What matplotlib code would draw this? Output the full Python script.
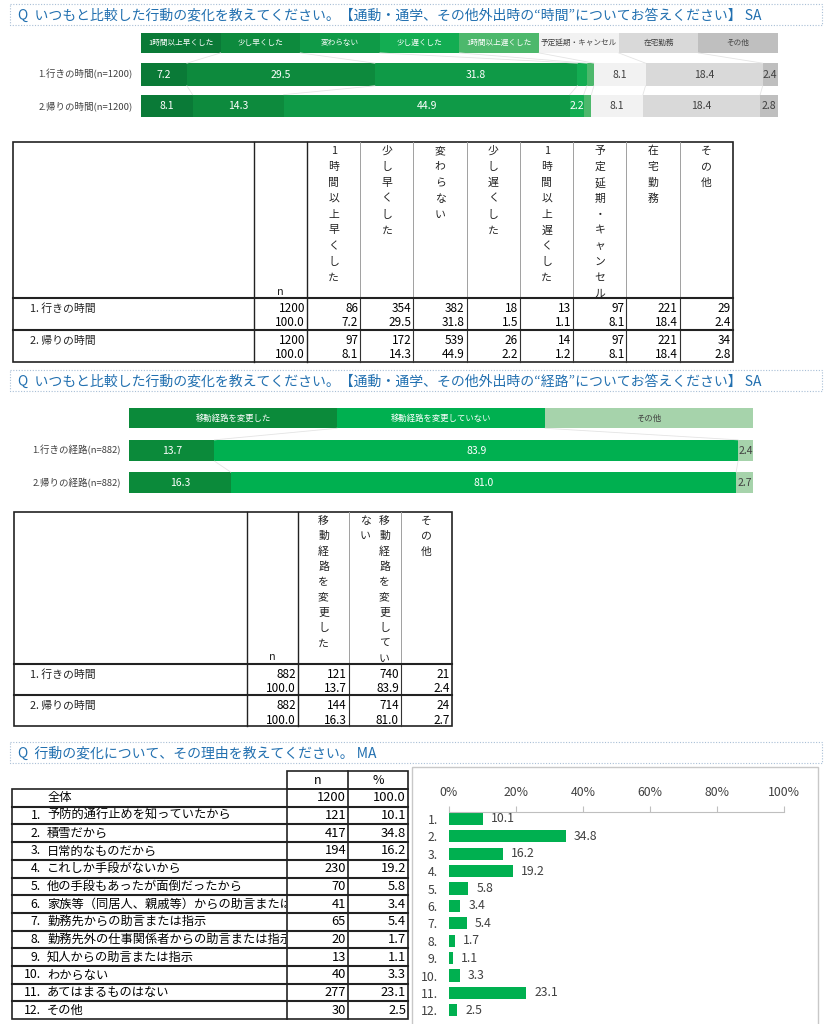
import numpy as np
import matplotlib
matplotlib.use("Agg")
import matplotlib.pyplot as plt
from matplotlib.patches import Rectangle

plt.rcParams['font.family'] = ['Noto Sans CJK JP', 'DejaVu Sans']

W, H = 828, 1024

# ---- data: time of commute ----
time_cats = ["1時間以上早くした", "少し早くした", "変わらない", "少し遅くした",
             "1時間以上遅くした", "予定延期・キャンセル", "在宅勤務", "その他"]
time_bar_rows = ["1.行きの時間(n=1200)", "2.帰りの時間(n=1200)"]
time_tbl_rows = ["1. 行きの時間", "2. 帰りの時間"]
time_n = [1200, 1200]
time_go_cnt = [86, 354, 382, 18, 13, 97, 221, 29]
time_go_pct = [7.2, 29.5, 31.8, 1.5, 1.1, 8.1, 18.4, 2.4]
time_back_cnt = [97, 172, 539, 26, 14, 97, 221, 34]
time_back_pct = [8.1, 14.3, 44.9, 2.2, 1.2, 8.1, 18.4, 2.8]

# ---- data: route ----
route_cats = ["移動経路を変更した", "移動経路を変更していない", "その他"]
route_bar_rows = ["1.行きの経路(n=882)", "2.帰りの経路(n=882)"]
route_tbl_rows = ["1. 行きの時間", "2. 帰りの時間"]
route_n = [882, 882]
route_go_cnt = [121, 740, 21]
route_go_pct = [13.7, 83.9, 2.4]
route_back_cnt = [144, 714, 24]
route_back_pct = [16.3, 81.0, 2.7]

# ---- data: reasons ----
reason_total_n = 1200
reason_labels = ["予防的通行止めを知っていたから", "積雪だから", "日常的なものだから",
                 "これしか手段がないから", "他の手段もあったが面倒だったから",
                 "家族等（同居人、親戚等）からの助言または指示", "勤務先からの助言または指示",
                 "勤務先外の仕事関係者からの助言または指示", "知人からの助言または指示",
                 "わからない", "あてはまるものはない", "その他"]
reason_n = [121, 417, 194, 230, 70, 41, 65, 20, 13, 40, 277, 30]
reason_pct = [10.1, 34.8, 16.2, 19.2, 5.8, 3.4, 5.4, 1.7, 1.1, 3.3, 23.1, 2.5]

time_colors = ['#0a7a37', '#0d8a3d', '#0f9a47', '#13ad52', '#4db86c', '#f2f2f2', '#d9d9d9', '#bfbfbf']
time_txt = ['white'] * 5 + ['#404040'] * 3
route_colors = ['#0b8a3a', '#00b050', '#a6d3ab']
route_txt = ['white', 'white', '#404040']
TITLE_C = '#2270b0'

fig = plt.figure(figsize=(W / 100, H / 100), dpi=100)
bg = fig.add_axes([0, 0, 1, 1])
bg.set_xlim(0, W)
bg.set_ylim(H, 0)
bg.axis('off')


def px_ax(x0, y0, x1, y1):
    return fig.add_axes([x0 / W, 1 - y1 / H, (x1 - x0) / W, (y1 - y0) / H])


def title_box(y0, y1, text):
    bg.add_patch(Rectangle((10, y0), 812, y1 - y0, fill=False, ec='#a9bfd6',
                           lw=0.8, ls=(0, (1, 1.5))))
    bg.text(18, (y0 + y1) / 2 + 1, text, fontsize=10, color=TITLE_C, va='center', ha='left')


def stacked(rect, cats, colors, txtc, rows, vals_list, hh, bh, fs_head, fs_val, fs_row):
    ax = px_ax(*rect)
    ax.set_xlim(0, 100)
    ax.set_ylim(len(rows) + 0.35, -0.35)
    ax.axis('off')
    w = 100 / len(cats)
    for i, c in enumerate(cats):
        ax.barh(0, w, left=i * w, height=hh, color=colors[i], lw=0)
        ax.text(i * w + w / 2, 0, c, ha='center', va='center', fontsize=fs_head, color=txtc[i])
    prev_edges, prev_bottom = np.arange(1, len(cats)) * w, hh / 2
    for r, vals in enumerate(vals_list, start=1):
        vals = np.array(vals)
        left = np.concatenate([[0], np.cumsum(vals)[:-1]])
        ax.barh(r, vals, left=left, height=bh, color=colors, lw=0)
        edges = np.cumsum(vals)[:-1]
        for xa, xb in zip(prev_edges, edges):
            ax.plot([xa, xb], [r - 1 + prev_bottom, r - bh / 2], color='#e4e4e4', lw=0.6)
        prev_edges, prev_bottom = edges, bh / 2
        for i, v in enumerate(vals):
            if v >= 2:
                ax.text(left[i] + v / 2, r, f"{v:.1f}", ha='center', va='center',
                        fontsize=fs_val, color=txtc[i])
        ax.text(-1.3, r, rows[r - 1], ha='right', va='center', fontsize=fs_row, color='#404040')
    return ax


def vtext(xc, y0, text, step, maxlen, fs, gap):
    chunks = [text[i:i + maxlen] for i in range(0, len(text), maxlen)]
    n = len(chunks)
    for k, ch in enumerate(chunks):
        x = xc + (n - 1) / 2 * gap - k * gap
        for j, c in enumerate(ch):
            bg.text(x, y0 + j * step, c, ha='center', va='center', fontsize=fs, color='#222222')


def table(xs, y_top, y_hdr, row_h, heads, row_labels, n_vals, cnts, pcts, step, maxlen, n_pos):
    y_bot = y_hdr + row_h * len(row_labels)
    # light header separators, dark body separators
    for x in xs[3:-1]:
        bg.plot([x, x], [y_top, y_hdr], color='#a0a0a0', lw=0.7)
        bg.plot([x, x], [y_hdr, y_bot], color='#333333', lw=0.8)
    for x in xs[1:3]:
        bg.plot([x, x], [y_top, y_bot], color='#222222', lw=1.0)
    bg.add_patch(Rectangle((xs[0], y_top), xs[-1] - xs[0], y_bot - y_top, fill=False,
                           ec='#222222', lw=1.2))
    for r in range(len(row_labels)):
        bg.plot([xs[0], xs[-1]], [y_hdr + r * row_h] * 2, color='#222222', lw=1.5)
    for j, h in enumerate(heads):
        vtext((xs[j + 2] + xs[j + 3]) / 2, y_top + 9, h, step, maxlen, 7.8, 19)
    bg.text(n_pos[0], n_pos[1], "n", ha='center', va='center', fontsize=7.8, color='#222222')
    for r, lab in enumerate(row_labels):
        yc = y_hdr + r * row_h + 10.5
        yp = y_hdr + r * row_h + 25
        bg.text(30, yc, lab, ha='left', va='center', fontsize=7.8, color='#222222')
        bg.text(xs[2] - 2, yc, f"{n_vals[r]}", ha='right', va='center', fontsize=8.5)
        bg.text(xs[2] - 2, yp, "100.0", ha='right', va='center', fontsize=8.5)
        for j in range(len(heads)):
            bg.text(xs[j + 3] - 2, yc, f"{cnts[r][j]}", ha='right', va='center', fontsize=8.5)
            bg.text(xs[j + 3] - 2, yp, f"{pcts[r][j]:.1f}", ha='right', va='center', fontsize=8.5)


# ---------------- section 1 ----------------
title_box(4, 25, "Q  いつもと比較した行動の変化を教えてください。【通動・通学、その他外出時の“時間”についてお答えください】 SA")
stacked((141, 32, 778, 117), time_cats, time_colors, time_txt, time_bar_rows,
        [time_go_pct, time_back_pct], 0.63, 0.72, 5.5, 7.5, 6.8)
xs1 = [13, 254] + list(307 + 53.25 * np.arange(9))
table(xs1, 142, 298, 32, time_cats, time_tbl_rows, time_n,
      [time_go_cnt, time_back_cnt], [time_go_pct, time_back_pct], 15.9, 10, (280, 292))

# ---------------- section 2 ----------------
title_box(370, 391, "Q  いつもと比較した行動の変化を教えてください。【通動・通学、その他外出時の“経路”についてお答えください】 SA")
stacked((129, 407, 753, 494), route_cats, route_colors, route_txt, route_bar_rows,
        [route_go_pct, route_back_pct], 0.62, 0.66, 6.0, 7.5, 6.8)
xs2 = [14, 247, 298, 349, 401, 452]
table(xs2, 512, 664, 31, route_cats, route_tbl_rows, route_n,
      [route_go_cnt, route_back_cnt], [route_go_pct, route_back_pct], 15.3, 10, (272, 657))

# ---------------- section 3 ----------------
title_box(742, 763, "Q  行動の変化について、その理由を教えてください。 MA")

rh = 17.7
y0 = 789
bg.add_patch(Rectangle((287, 771), 121, y0 - 771, fill=False, ec='#222222', lw=1.2))
bg.plot([348, 348], [771, y0], color='#222222', lw=1.2)
bg.text(317.5, 780, "n", ha='center', va='center', fontsize=9)
bg.text(378, 780, "%", ha='center', va='center', fontsize=9)
nrows = len(reason_labels) + 1
y_end = y0 + rh * nrows
bg.add_patch(Rectangle((12, y0), 396, y_end - y0, fill=False, ec='#222222', lw=1.2))
for x in (287, 348):
    bg.plot([x, x], [y0, y_end], color='#222222', lw=1.2)
for r in range(1, nrows):
    bg.plot([12, 408], [y0 + r * rh] * 2, color='#222222', lw=1.5)
clip = Rectangle((12, y0), 274, y_end - y0, transform=bg.transData, visible=False)
bg.add_patch(clip)
bg.text(48, y0 + rh / 2, "全体", ha='left', va='center', fontsize=8.8)
bg.text(346, y0 + rh / 2, f"{reason_total_n}", ha='right', va='center', fontsize=9.3)
bg.text(406, y0 + rh / 2, "100.0", ha='right', va='center', fontsize=9.3)
for i, lab in enumerate(reason_labels):
    yc = y0 + (i + 1.5) * rh
    bg.text(41, yc, f"{i + 1}.", ha='right', va='center', fontsize=8.8)
    t = bg.text(47, yc, lab, ha='left', va='center', fontsize=8.8, clip_on=True)
    t.set_clip_path(clip)
    bg.text(346, yc, f"{reason_n[i]}", ha='right', va='center', fontsize=9.3)
    bg.text(406, yc, f"{reason_pct[i]:.1f}", ha='right', va='center', fontsize=9.3)

# chart box
bg.add_patch(Rectangle((412, 767), 406, 270, fill=False, ec='#c8c8c8', lw=1.0))
ax3 = px_ax(449, 812, 784, 1019)
pos = np.arange(1, len(reason_pct) + 1)
ax3.barh(pos, reason_pct, height=0.7, color='#00b050', lw=0)
ax3.set_xlim(0, 100)
ax3.set_ylim(12.5, 0.6)
for p, v in zip(pos, reason_pct):
    ax3.text(v + 2.4, p, f"{v:.1f}", ha='left', va='center', fontsize=8.8, color='#404040')
ax3.set_yticks(pos)
ax3.set_yticklabels([f"{p}." for p in pos])
ax3.set_xticks(np.arange(0, 101, 20))
ax3.set_xticklabels([f"{v}%" for v in range(0, 101, 20)])
ax3.xaxis.tick_top()
ax3.tick_params(axis='x', direction='out', length=4.5, color='#bfbfbf', labelsize=8.8,
                labelcolor='#404040', pad=5)
ax3.tick_params(axis='y', length=0, labelsize=8.8, labelcolor='#404040', pad=8)
for s in ('bottom', 'left', 'right'):
    ax3.spines[s].set_visible(False)
ax3.spines['top'].set_color('#bfbfbf')
ax3.patch.set_alpha(0)

fig.savefig("out.png", dpi=100, facecolor='white')
